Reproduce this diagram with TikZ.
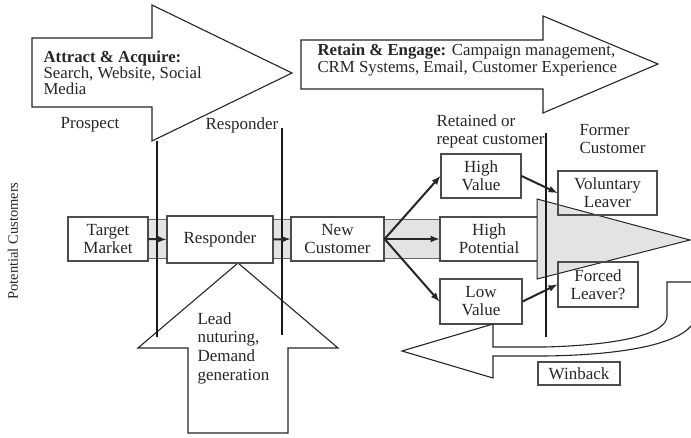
\documentclass[tikz,border=0pt]{standalone}
\usepackage{fontspec}
\setmainfont{Liberation Serif}
\usepackage{tikz}

\begin{document}
\begin{tikzpicture}[x=1pt, y=-1pt, font=\fontsize{17}{18}\selectfont, text=black!85,
  box/.style={draw=black!70, fill=white, align=center, inner sep=0pt, line width=1.2pt},
  leaver/.style={box, fill=none},
  bigarrow/.style={draw=black!85, fill=white, line width=1.1pt, line join=miter},
  divider/.style={line width=2.4pt, black!90},
  flow/.style={->, >=latex, line width=2pt, black!85}]
\useasboundingbox (0,0) rectangle (691,438);
% Grey band behind the main row
\draw[draw=black!60, fill=gray!22, line width=1pt] (148,220) rectangle (540,259);
% Attract & Acquire arrow
\draw[bigarrow] (32,38) -- (152,38) -- (152,5) -- (292,73) -- (152,141) -- (152,107) -- (32,107) -- cycle;
\node[anchor=west, align=left, font=\fontsize{16.8}{16.2}\selectfont] (attract) at (40,73) {\textbf{Attract \& Acquire:}\\Search, Website, Social\\Media};
% Retain & Engage arrow
\draw[bigarrow] (301,40) -- (543,40) -- (543,16) -- (658,64) -- (543,113) -- (543,89) -- (301,89) -- cycle;
\node[anchor=west, align=left, font=\fontsize{16.8}{16.2}\selectfont] (retain) at (314,60) {\textbf{Retain \& Engage:} Campaign management,\\CRM Systems, Email, Customer Experience};
% Lead nurturing arrow (points at Responder)
\draw[bigarrow] (238,263) -- (338,348) -- (288,348) -- (288,433) -- (188,433) -- (188,348) -- (138,348) -- cycle;
\node[anchor=west, align=left, font=\fontsize{17}{18.7}\selectfont] (lead) at (194,348) {Lead\\nuturing,\\Demand\\generation};
% Customer stages
\node[box, minimum width=80, minimum height=44] (tm) at (108,239) {Target\\Market};
\node[box, minimum width=106, minimum height=47] (resp) at (220,239.5) {Responder};
\node[box, minimum width=93, minimum height=44] (newc) at (337.5,239) {New\\Customer};
\node[box, minimum width=80, minimum height=44] (hv) at (481,176) {High\\Value};
\node[box, minimum width=98, minimum height=44] (hp) at (489,239) {High\\Potential};
\node[box, minimum width=82, minimum height=45] (lv) at (481,301.5) {Low\\Value};
% Big grey triangle
\draw[draw=black!85, fill=gray!22, line width=1pt] (537,199) -- (690,240) -- (537,279) -- cycle;
% Former customers
\node[leaver, minimum width=99, minimum height=44] (vl) at (607.5,193) {Voluntary\\Leaver};
\node[leaver, minimum width=80, minimum height=45] (fl) at (598,284.5) {Forced\\Leaver?};
% Winback arrow
\draw[bigarrow] (691,282) -- (667,282) -- (667,316) .. controls (667,334) and (620,345) .. (545,347) -- (493,347) -- (493,324) -- (402,351) -- (493,378) -- (493,356) -- (545,356) .. controls (620,355) and (675,345) .. (691,326);
\node[box, minimum width=82, minimum height=23] (winback) at (579,373.5) {Winback};
% Stage dividers
\draw[divider] (157,141) -- (157,337);
\draw[divider] (282,128) -- (282,335);
\draw[divider] (546,133) -- (546,337);
% Stage labels
\node (prospect) at (90,125) {Prospect};
\node (resplabel) at (242,125) {Responder};
\node[anchor=west, align=left] (retained) at (433,131) {Retained or\\repeat customer};
\node[anchor=west, align=left] (former) at (576,139) {Former\\Customer};
\node[rotate=90, font=\fontsize{14.5}{16}\selectfont] (potential) at (13,241) {Potential Customers};
% Flow between stages
\draw[flow] (tm.east) -- (resp.west);
\draw[flow] (resp.east) -- (newc.west);
\draw[flow] (newc.east) -- (hv.west);
\draw[flow] (newc.east) -- (hp.west);
\draw[flow] (newc.east) -- (lv.west);
\draw[flow] (hv.east) -- (vl.west);
\draw[flow] (lv.east) -- (fl.west);
\end{tikzpicture}
\end{document}
